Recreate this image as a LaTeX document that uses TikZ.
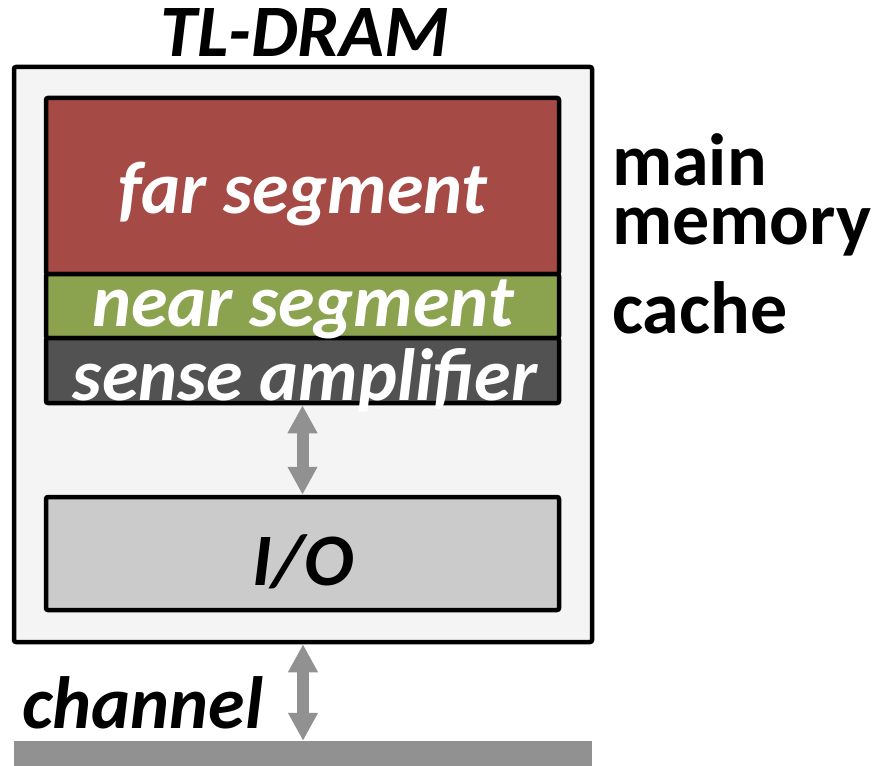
\documentclass[tikz,border=0pt]{standalone}
\usepackage{fontspec}
\setmainfont{Carlito}
\usepackage{tikz}
\usetikzlibrary{arrows.meta}
\definecolor{INK}{HTML}{000000}
\definecolor{SHELL}{HTML}{F4F4F4}
\definecolor{FAR}{HTML}{A64A45}
\definecolor{NEAR}{HTML}{8BA24E}
\definecolor{SENSE}{HTML}{525252}
\definecolor{IOFILL}{HTML}{CBCBCB}
\definecolor{WIRE}{HTML}{919191}

\begin{document}
\begin{tikzpicture}[x=1pt,y=-1pt]
\tikzset{blk/.style={draw=INK,line width=4.5pt,rounded corners=2pt,inner sep=0pt,minimum width=513pt},
 txt/.style={anchor=base,inner sep=0pt,font=\fontsize{74}{80}\selectfont\bfseries\itshape},
 side/.style={anchor=base west,inner sep=0pt,align=left,font=\fontsize{74}{59}\selectfont\bfseries},
 dbl/.style={{Triangle[width=28pt,length=28pt]}-{Triangle[width=28pt,length=28pt]},line width=12pt,WIRE}}
\useasboundingbox (0,0) rectangle (874,765);
\node[blk,fill=SHELL,minimum width=578pt,minimum height=575pt] (dram) at (303,354.5) {};
\node[blk,fill=FAR,minimum height=176pt] (far) at (302.5,186) {};
\node[blk,fill=NEAR,minimum height=64pt] (near) at (302.5,306) {};
\node[blk,fill=SENSE,minimum height=65pt] (sense) at (302.5,370.5) {};
\node[blk,fill=IOFILL,minimum height=113pt] (io) at (302.5,553.5) {};
\node[fill=WIRE,inner sep=0pt,minimum width=578pt,minimum height=28pt] (bus) at (303,755) {};
\draw[dbl] (sense.south) -- (io.north);
\draw[dbl] (dram.south) -- (bus.north);
\node[txt,INK] (title) at (305,57) {TL-DRAM};
\node[txt,white] (farlbl) at (303,213) {far segment};
\node[txt,white] (nearlbl) at (303,326) {near segment};
\node[txt,white] (senselbl) at (305,400) {sense amplifier};
\node[txt,INK] (iolbl) at (303,585) {I/O};
\node[txt,INK,anchor=base west] (chlbl) at (22,728) {channel};
\node[side] (memlbl) at (612,244) {main\\memory};
\node[side] (cachelbl) at (612,333) {cache};
\end{tikzpicture}
\end{document}
